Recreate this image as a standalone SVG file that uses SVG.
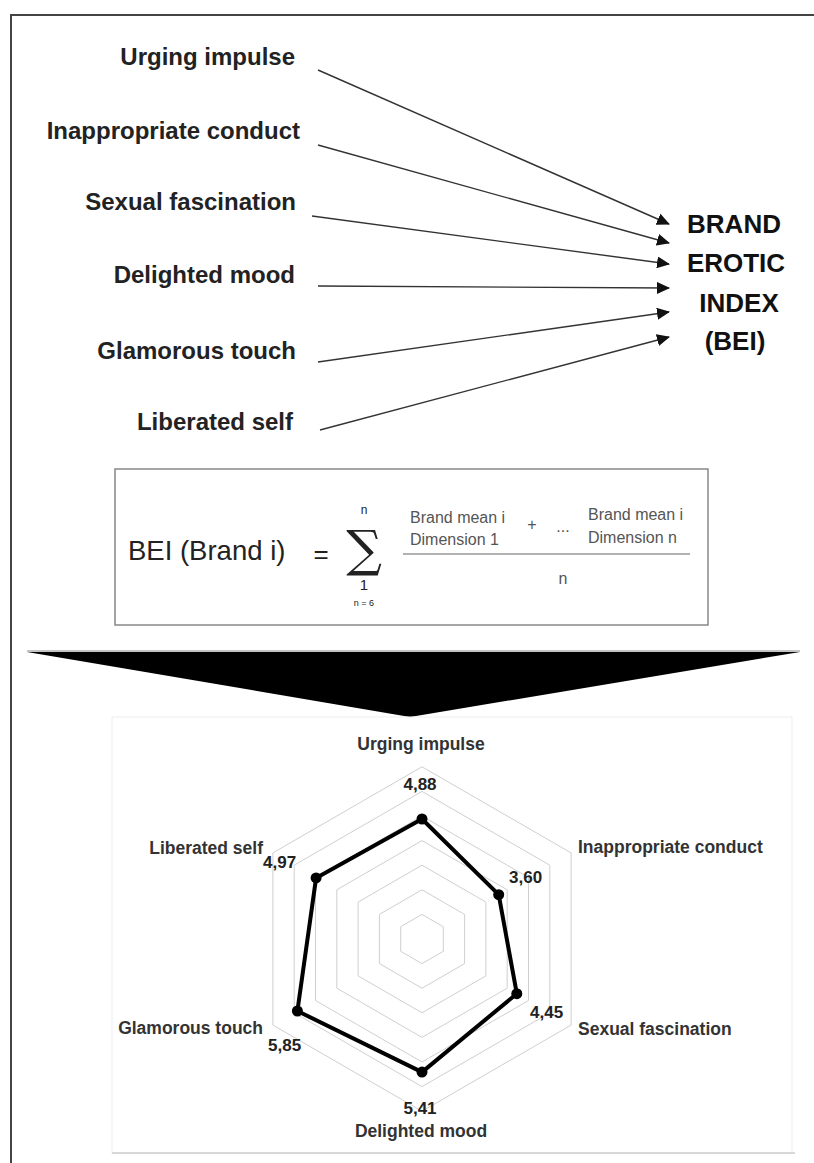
<svg xmlns="http://www.w3.org/2000/svg" width="814" height="1163" viewBox="0 0 814 1163">
<defs>
<style>
.lbl{font-family:"Liberation Sans",Arial,sans-serif;font-weight:bold;font-size:24px;fill:#222;}
.bei{font-family:"Liberation Sans",Arial,sans-serif;font-weight:bold;font-size:26px;fill:#111;text-anchor:middle;}
.conn{stroke:#333;stroke-width:1.4;fill:none;}
.f{font-family:"Liberation Sans",Arial,sans-serif;fill:#222;}
.fs{font-family:"Liberation Sans",Arial,sans-serif;font-size:16px;fill:#555;}
.ring{fill:none;stroke:#cfcfcf;stroke-width:1;}
.rl{font-family:"Liberation Sans",Arial,sans-serif;font-weight:bold;font-size:17.5px;fill:#333;}
.rv{font-family:"Liberation Sans",Arial,sans-serif;font-weight:bold;font-size:17px;fill:#222;}
</style>
<marker id="arr" markerUnits="userSpaceOnUse" markerWidth="13" markerHeight="12" refX="12" refY="6" orient="auto">
<path d="M0,0 L13,6 L0,12 z" fill="#111"/>
</marker>
</defs>
<rect width="814" height="1163" fill="#fff"/>
<g id="frame">
<path d="M11,1163 V15 H814" fill="none" stroke="#444" stroke-width="2"/>
</g>
<g id="n-urging"><text class="lbl" x="295" y="65" text-anchor="end">Urging impulse</text></g>
<g id="n-inappropriate"><text class="lbl" x="300" y="139" text-anchor="end">Inappropriate conduct</text></g>
<g id="n-sexual"><text class="lbl" x="296" y="210" text-anchor="end">Sexual fascination</text></g>
<g id="n-delighted"><text class="lbl" x="295" y="283" text-anchor="end">Delighted mood</text></g>
<g id="n-glamorous"><text class="lbl" x="296" y="359" text-anchor="end">Glamorous touch</text></g>
<g id="n-liberated"><text class="lbl" x="293" y="430" text-anchor="end">Liberated self</text></g>
<g id="n-bei">
<text class="bei" x="734" y="233">BRAND</text>
<text class="bei" x="736" y="272">EROTIC</text>
<text class="bei" x="739" y="312">INDEX</text>
<text class="bei" x="735" y="350">(BEI)</text>
</g>
<g id="connectors">
<line class="conn" x1="318" y1="70" x2="669" y2="224" marker-end="url(#arr)"/>
<line class="conn" x1="318" y1="145" x2="669" y2="243" marker-end="url(#arr)"/>
<line class="conn" x1="312" y1="216" x2="669" y2="264" marker-end="url(#arr)"/>
<line class="conn" x1="318" y1="286" x2="669" y2="288" marker-end="url(#arr)"/>
<line class="conn" x1="318" y1="362" x2="669" y2="312" marker-end="url(#arr)"/>
<line class="conn" x1="320" y1="430" x2="669" y2="337" marker-end="url(#arr)"/>
</g>
<g id="formula">
<rect x="115" y="469" width="593" height="156" fill="#fff" stroke="#888" stroke-width="1.5"/>
<text class="f" x="128" y="560" font-size="27.5">BEI (Brand i)</text>
<text class="f" x="321" y="563" font-size="26" text-anchor="middle">=</text>
<text class="f" x="364" y="514" font-size="12" text-anchor="middle" fill="#555">n</text>
<text x="364" y="566" font-family="'DejaVu Serif',serif" font-size="50" text-anchor="middle" fill="#222">∑</text>
<text class="f" x="364" y="590" font-size="15" text-anchor="middle">1</text>
<text class="f" x="364" y="606" font-size="9" text-anchor="middle" fill="#666">n = 6</text>
<text class="fs" x="410" y="523">Brand mean i</text>
<text class="fs" x="410" y="545">Dimension 1</text>
<text class="fs" x="532" y="530" text-anchor="middle">+</text>
<text class="fs" x="563" y="532" text-anchor="middle">...</text>
<text class="fs" x="588" y="520">Brand mean i</text>
<text class="fs" x="588" y="543">Dimension n</text>
<line x1="403" y1="554" x2="690" y2="554" stroke="#999" stroke-width="1.5"/>
<text class="fs" x="563" y="584" text-anchor="middle">n</text>
</g>
<g id="big-arrow">
<polygon points="27,652 800,652 410,717" fill="#000"/>
<line x1="27" y1="651" x2="800" y2="651" stroke="#888" stroke-width="1"/>
</g>
<g id="radar">
<rect x="112" y="717" width="680" height="436" fill="none" stroke="#eeeeee" stroke-width="1"/>
<line x1="112" y1="1153" x2="795" y2="1153" stroke="#d8d8d8" stroke-width="2"/>
<g transform="translate(422,939)">
<polygon class="ring" points="0,-24.6 21.3,-12.3 21.3,12.3 0,24.6 -21.3,12.3 -21.3,-12.3"/>
<polygon class="ring" points="0,-49.2 42.6,-24.6 42.6,24.6 0,49.2 -42.6,24.6 -42.6,-24.6"/>
<polygon class="ring" points="0,-73.8 63.9,-36.9 63.9,36.9 0,73.8 -63.9,36.9 -63.9,-36.9"/>
<polygon class="ring" points="0,-98.4 85.2,-49.2 85.2,49.2 0,98.4 -85.2,49.2 -85.2,-49.2"/>
<polygon class="ring" points="0,-123 106.5,-61.5 106.5,61.5 0,123 -106.5,61.5 -106.5,-61.5"/>
<polygon class="ring" points="0,-147.6 127.8,-73.8 127.8,73.8 0,147.6 -127.8,73.8 -127.8,-73.8"/>
<polygon class="ring" points="0,-172.2 149.1,-86.1 149.1,86.1 0,172.2 -149.1,86.1 -149.1,-86.1"/>
<polygon points="0,-120 76.7,-44.3 94.8,54.7 0,133.1 -124.6,72 -105.9,-61.1" fill="none" stroke="#000" stroke-width="4" stroke-linejoin="round"/>
<g fill="#000">
<circle cx="0" cy="-120" r="5.5"/>
<circle cx="76.7" cy="-44.3" r="5.5"/>
<circle cx="94.8" cy="54.7" r="5.5"/>
<circle cx="0" cy="133.1" r="5.5"/>
<circle cx="-124.6" cy="72" r="5.5"/>
<circle cx="-105.9" cy="-61.1" r="5.5"/>
</g>
</g>
<text class="rl" x="421" y="750" text-anchor="middle">Urging impulse</text>
<text class="rv" x="420" y="790" text-anchor="middle">4,88</text>
<text class="rl" x="578" y="853">Inappropriate conduct</text>
<text class="rv" x="509" y="883">3,60</text>
<text class="rl" x="578" y="1035">Sexual fascination</text>
<text class="rv" x="530" y="1018">4,45</text>
<text class="rl" x="421" y="1137" text-anchor="middle">Delighted mood</text>
<text class="rv" x="420" y="1114" text-anchor="middle">5,41</text>
<text class="rl" x="263" y="1034" text-anchor="end">Glamorous touch</text>
<text class="rv" x="268" y="1051">5,85</text>
<text class="rl" x="263" y="854" text-anchor="end">Liberated self</text>
<text class="rv" x="263" y="868">4,97</text>
</g>
</svg>
